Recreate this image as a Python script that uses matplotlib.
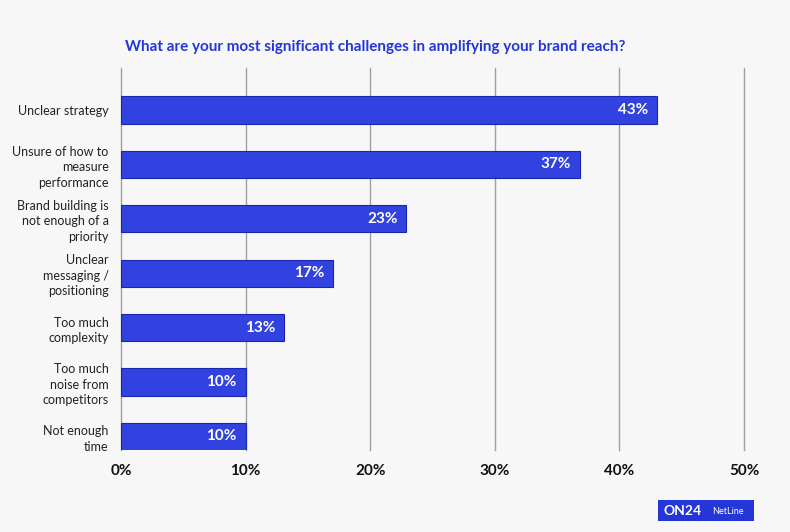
import matplotlib
matplotlib.use("Agg")
import matplotlib.pyplot as plt
from matplotlib.patches import Rectangle

categories = ["Unclear strategy", "Unsure of how to\nmeasure\nperformance",
              "Brand building is\nnot enough of a\npriority", "Unclear\nmessaging /\npositioning",
              "Too much\ncomplexity", "Too much\nnoise from\ncompetitors", "Not enough\ntime"]
values = [43, 36.8, 22.9, 17, 13.1, 10, 10]
labels = ["43%", "37%", "23%", "17%", "13%", "10%", "10%"]
xticks = [0, 10, 20, 30, 40, 50]
xticklabels = ["0%", "10%", "20%", "30%", "40%", "50%"]
title = "What are your most significant challenges in amplifying your brand reach?"

plt.rcParams['font.family'] = ['Lato', 'DejaVu Sans']

BG = "#f7f7f7"
BAR = "#3142e0"
fig = plt.figure(figsize=(7.9, 5.32), dpi=100, facecolor=BG)
ax = fig.add_axes([121/790, 1-450/532, (744-121)/790, (450-68)/532])
ax.set_facecolor(BG)
y = list(range(len(categories)))
ax.barh(y, values, height=0.5, color=BAR, edgecolor="#1a26b0", linewidth=0.8, zorder=3)
for yi, v, lab in zip(y, values, labels):
    ax.text(v - 0.7, yi, lab, ha="right", va="center", color="white",
            fontsize=11, fontweight="bold", zorder=4)
ax.set_ylim(6.25, -0.77)
ax.set_xlim(0, 50)
ax.set_xticks(xticks)
ax.set_xticklabels(xticklabels, fontsize=11, fontweight="bold", color="#111111")
ax.set_yticks(y)
ax.set_yticklabels(categories, fontsize=9, color="#222222", linespacing=1.35)
ax.tick_params(axis="both", length=0)
ax.tick_params(axis="y", pad=9)
ax.tick_params(axis="x", pad=10)
for xv in xticks:
    ax.axvline(xv, color="#a0a0a0", linewidth=1, zorder=0, clip_on=False)
for s in ax.spines.values():
    s.set_visible(False)
fig.text(375/790, 1-47/532, title, ha="center", va="center", color="#2436d8",
         fontsize=11, fontweight="bold")
# logo
fig.patches.append(Rectangle((658/790, 1-521/532), 96/790, 21/532, transform=fig.transFigure,
                             facecolor="#2436d8", edgecolor="none"))
fig.text(683/790, 1-511/532, "ON24", ha="center", va="center", color="white",
         fontsize=10, fontweight="bold")
fig.text(728/790, 1-511/532, "NetLine", ha="center", va="center", color="white",
         fontsize=6.5)
fig.savefig("out.png", dpi=100, facecolor=BG)
